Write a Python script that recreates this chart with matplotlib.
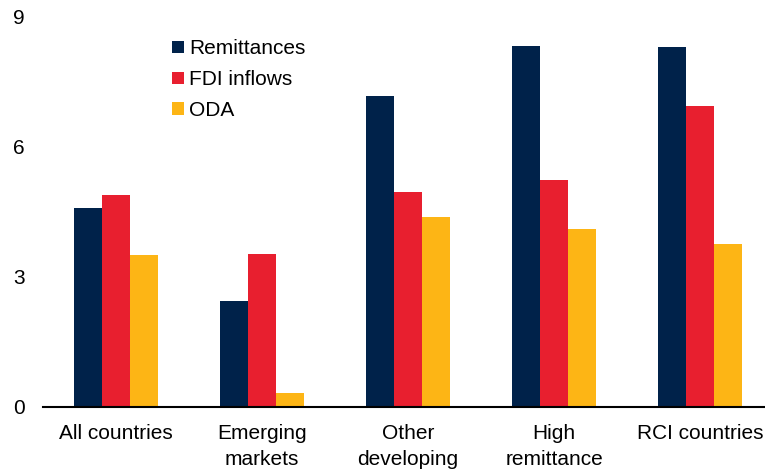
import numpy as np
import matplotlib as mpl
mpl.use('Agg')
import matplotlib.pyplot as plt

plt.rcParams['font.family'] = ['Liberation Sans', 'DejaVu Sans']

categories = ['All countries', 'Emerging\nmarkets', 'Other\ndeveloping', 'High\nremittance', 'RCI countries']
remittances = [4.57, 2.44, 7.15, 8.30, 8.28]
fdi_inflows = [4.87, 3.52, 4.94, 5.22, 6.92]
oda = [3.49, 0.32, 4.37, 4.09, 3.75]

series = [('Remittances', remittances, '#00224A'),
          ('FDI inflows', fdi_inflows, '#E81F2F'),
          ('ODA', oda, '#FDB515')]

W, H = 765, 471
fig = plt.figure(figsize=(W/100, H/100), dpi=100)
ax = fig.add_axes([43/W, (H-407)/H, (W-43)/W, (407-16)/H])

x = np.arange(len(categories))
bw = 0.193
for i, (name, vals, col) in enumerate(series):
    ax.bar(x + (i-1)*bw, vals, width=bw, color=col, label=name, linewidth=0)

ax.set_xlim(-0.5, 4.445)
ax.set_ylim(0, 9)
ax.set_yticks([0, 3, 6, 9])
ax.set_xticks(x)
ax.set_xticklabels(categories, fontsize=15, linespacing=1.5)
ax.tick_params(axis='y', labelsize=15, length=0, pad=13)
ax.tick_params(axis='x', length=0, pad=12)
for s in ['top', 'right', 'left']:
    ax.spines[s].set_visible(False)
ax.spines['bottom'].set_linewidth(1.5)
ax.spines['bottom'].set_color('black')

ax.legend(loc='upper left', bbox_to_anchor=(164/W, 1-31/H), bbox_transform=fig.transFigure,
          frameon=False, fontsize=15, handlelength=0.55, handleheight=0.55,
          handletextpad=0.25, labelspacing=0.57, borderaxespad=0)

plt.savefig('out.png', dpi=100)
